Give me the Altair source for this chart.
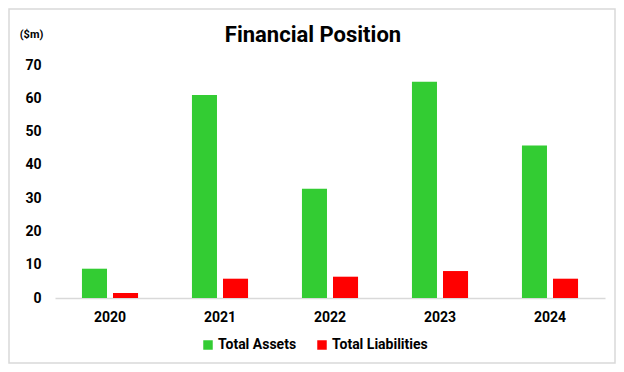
import altair as alt
import pandas as pd

years = ["2020", "2021", "2022", "2023", "2024"]
assets = [8.8, 61.0, 32.8, 65.0, 45.8]
liabilities = [1.5, 5.8, 6.4, 8.1, 5.8]
series = ["Total Assets", "Total Liabilities"]
colors = ["#33CC33", "#FF0000"]
y_ticks = [0, 10, 20, 30, 40, 50, 60, 70]

rows = []
for i, yr in enumerate(years):
    rows.append({"Year": yr, "Series": series[0], "Value": assets[i]})
    rows.append({"Year": yr, "Series": series[1], "Value": liabilities[i]})
df = pd.DataFrame(rows)

FONT = "Roboto"

bars = alt.Chart(df).mark_bar().encode(
    x=alt.X("Year:N", sort=years,
            scale=alt.Scale(paddingInner=0.49, paddingOuter=0.245),
            axis=alt.Axis(title=None, labelAngle=0, ticks=False, domain=True,
                          domainColor="#d9d9d9", domainWidth=1.5,
                          labelFont=FONT, labelFontSize=14, labelFontWeight="bold",
                          labelColor="#000000", labelPadding=12)),
    xOffset=alt.XOffset("Series:N", sort=series,
                        scale=alt.Scale(paddingInner=0.194, paddingOuter=0)),
    y=alt.Y("Value:Q", scale=alt.Scale(domain=[0, 70], nice=False),
            axis=alt.Axis(values=y_ticks, grid=False, ticks=False, domain=False,
                          labelFont=FONT, labelFontSize=14, labelFontWeight="bold",
                          labelColor="#000000", labelPadding=14,
                          title="($m)", titleAngle=0, titleFont=FONT,
                          titleFontSize=11, titleFontWeight="bold", titleColor="#000000",
                          titleX=-24, titleY=-28, titleAlign="center",
                          titleBaseline="alphabetic")),
    color=alt.Color("Series:N", sort=series,
                    scale=alt.Scale(domain=series, range=colors),
                    legend=alt.Legend(title=None, orient="none", direction="horizontal",
                                      legendX=146, legendY=273,
                                      symbolType="square", symbolSize=90,
                                      symbolStrokeWidth=0, symbolOpacity=1,
                                      labelFont=FONT, labelFontSize=14,
                                      labelFontWeight="bold", labelColor="#000000",
                                      labelOffset=3, columnPadding=18)),
)

frame = alt.Chart(alt.Data(values=[{"a": 1}])).mark_rect(
    fill=None, stroke="#d9d9d9", strokeWidth=1.5
).encode(
    x=alt.value(-46), x2=alt.value(560),
    y=alt.value(-56), y2=alt.value(298),
)

chart = alt.layer(frame, bars).properties(
    width=550, height=233,
    title=alt.TitleParams("Financial Position", font=FONT, fontSize=22,
                          fontWeight="bold", color="#000000", anchor="middle",
                          baseline="alphabetic", dx=-17, offset=-56),
    padding={"left": 47, "top": 57, "right": 11, "bottom": 66},
    autosize=alt.AutoSizeParams(type="none"),
).configure_view(stroke=None)

chart.save("out.html", embed_options={"renderer": "svg", "actions": False})
